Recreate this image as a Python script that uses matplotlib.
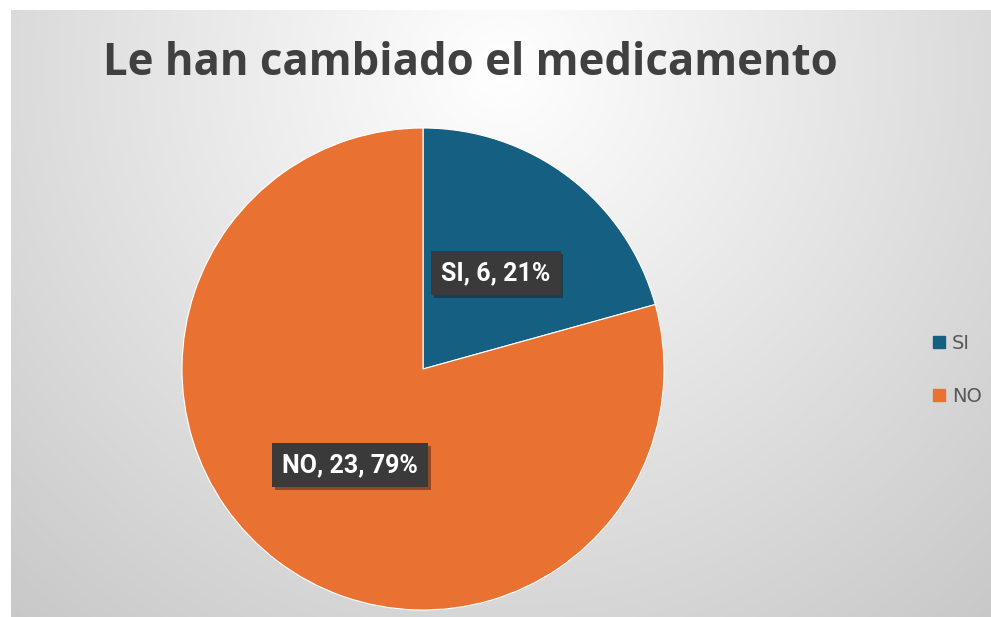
import numpy as np
import matplotlib
matplotlib.use("Agg")
from matplotlib import pyplot as plt
from matplotlib.lines import Line2D
import matplotlib.patheffects as pe

# Data
categories = ['SI', 'NO']
counts = [6, 23]
colors = ['#156082', '#E97132']

total = sum(counts)
labels = [f"{c}, {v}, {round(100 * v / total)}%" for c, v in zip(categories, counts)]

W, H = 991, 617
fig = plt.figure(figsize=(W / 100, H / 100), dpi=100)
fig.patch.set_facecolor('white')

# Chart area background with soft radial gradient
bg = fig.add_axes([11 / W, 0, 1 - 11 / W, (H - 10) / H])
yy, xx = np.mgrid[0:H - 10, 0:W - 11]
d = np.sqrt((xx - 490) ** 2 + (yy - 60) ** 2)
shade = 255 - 55 * np.clip(d / 737, 0, 1)
img = np.dstack([shade, shade, shade]) / 255
bg.imshow(img, aspect='auto', extent=[0, 1, 0, 1], origin='upper')
bg.set_axis_off()

# Title
fig.text(470 / W, 1 - 58 / H, 'Le han cambiado el medicamento', ha='center', va='center_baseline',
         fontsize=31.5, fontweight='bold', color='#404040', family='Open Sans')

# Pie
cx, cy, r = 423, 369, 241
ax = fig.add_axes([(cx - r) / W, (H - cy - r) / H, 2 * r / W, 2 * r / H])
wedges, texts = ax.pie(counts, colors=colors, startangle=90, counterclock=False,
                       labels=labels, labeldistance=0.5, radius=1,
                       wedgeprops=dict(edgecolor='white', linewidth=0.8))
for t in texts:
    t.set_ha('center')
    t.set_va('center')
    t.set_color('white')
    t.set_fontsize(18)
    t.set_fontweight('bold')
    t.set_family('Roboto')
    t.set_bbox(dict(boxstyle='square,pad=0.4', facecolor='#3a3a3a', edgecolor='none',
                    path_effects=[pe.withSimplePatchShadow(offset=(2, -2), alpha=0.4)]))
ax.set_xlim(-1, 1)
ax.set_ylim(-1, 1)

# Legend
handles = [Line2D([], [], marker='s', linestyle='none', markersize=8, color=c) for c in colors]
leg = fig.legend(handles, categories, loc='center left', bbox_to_anchor=(912 / W, 1 - 370 / H),
                 frameon=False, fontsize=14, labelspacing=1.75, handletextpad=0.15,
                 handlelength=1.0)
for t in leg.get_texts():
    t.set_color('#595959')

fig.savefig('out.png', dpi=100)
